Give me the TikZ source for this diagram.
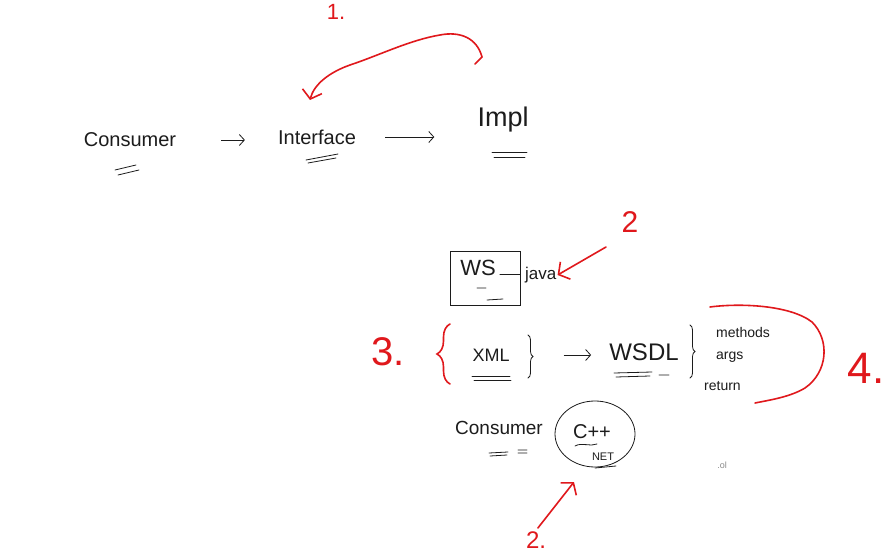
\documentclass[tikz,border=0pt]{standalone}
\usepackage{fontspec}
\setmainfont{Liberation Sans}
\usepackage{tikz}
\usetikzlibrary{
  arrows.meta,
  shapes.geometric,
  positioning,
  calc,
  decorations.pathreplacing
}
\definecolor{skInk}{HTML}{1C1C1C}
\definecolor{skRed}{HTML}{E0181C}
\definecolor{skMute}{HTML}{8A8A8A}
\tikzset{
  sknode/.style={font=\fontsize{20}{24}\selectfont, text=skInk, inner sep=1pt},
  sksmall/.style={font=\fontsize{14}{16}\selectfont, text=skInk, inner sep=1pt},
  rednum/.style={font=\fontsize{30}{32}\selectfont, text=skRed, inner sep=1pt},
  inkarrow/.style={-{Straight Barb[length=5pt, width=11pt]}, thick, skInk},
  redarrow/.style={-{Straight Barb[length=8pt, width=20pt]}, line width=1.6pt, skRed, line cap=round},
  redline/.style={line width=1.6pt, skRed, line cap=round},
  underl/.style={thick, skInk, line cap=round},
  wsbox/.style={draw=skInk, thick, minimum width=70pt, minimum height=54pt},
  ringnode/.style={draw=skInk, thick, ellipse, minimum width=80pt, minimum height=66pt}
}

\begin{document}
\begin{tikzpicture}[x=1pt, y=-1pt]
  \fill[white] (0,0) rectangle (888,556);
  \useasboundingbox (0,0) rectangle (888,556);

  % top row
  \node[rednum, font=\fontsize{22}{24}\selectfont] (one) at (336,12) {1.};
  \node[sknode] (consumer) at (130,140) {Consumer};
  \node[sknode] (interface) at (317,137) {Interface};
  \node[sknode, font=\fontsize{27}{30}\selectfont] (impl) at (503,120) {Impl};
  \draw[inkarrow, shorten <=44pt, shorten >=32pt] (consumer.east) -- (consumer.east -| interface.west);
  \draw[inkarrow, shorten <=28pt, shorten >=42pt] (interface.east) -- (interface.east -| impl.west);
  \draw[underl] (115,170) -- (136,165) (118,175) -- (139,170);
  \draw[underl] (306,160) -- (338,154) (308,163) -- (336,158);
  \draw[underl] (492,152) -- (527,152) (494,157) -- (525,157);

  \coordinate (swoopstart) at (475,64);
  \coordinate (ifacetip) at (310,100);
  \draw[redarrow] (swoopstart) -- (482,57) .. controls (477,38) and (460,31) .. (440,35)
    .. controls (410,40) and (380,55) .. (350,65) .. controls (330,72) and (314,84) .. (ifacetip);

  % web service box
  \node[rednum] (twoa) at (630,222) {2};
  \node[wsbox] (ws) at (485,278) {};
  \node[sknode, font=\fontsize{22}{26}\selectfont] (wstext) at (478,268) {WS};
  \node[sknode, font=\fontsize{17}{20}\selectfont, anchor=west] (java) at (524,275) {java};
  \draw[underl] (wstext.east) ++(3,6) -- (ws.east |- 274,274);
  \draw[underl] (477,288) -- (486,288) (487,300) -- (503,299);
  \coordinate (javatail) at (606,247);
  \draw[redarrow] (javatail) -- (java.east);

  % xml / wsdl row
  \node[rednum, font=\fontsize{40}{42}\selectfont] (three) at (388,352) {3.};
  \draw[redline, decorate, decoration={brace, amplitude=13pt}] (450,384) -- (450,324);
  \node[sknode, font=\fontsize{18}{22}\selectfont] (xml) at (491,355) {XML};
  \draw[underl, decorate, decoration={brace, amplitude=5pt}] (528,335) -- (528,378);
  \draw[underl] (472,376) -- (510,376) (474,380) -- (511,380);
  \node[sknode, font=\fontsize{24}{28}\selectfont] (wsdl) at (644,352) {WSDL};
  \draw[inkarrow, shorten <=53pt, shorten >=17pt] (xml.east) -- (xml.east -| wsdl.west);
  \draw[underl] (614,373) -- (652,372) (616,377) -- (650,376) (659,375) -- (669,375);
  \draw[underl, decorate, decoration={brace, amplitude=5pt}] (690,325) -- (690,378);
  \node[sksmall, anchor=west] (methods) at (715,332) {methods};
  \node[sksmall, anchor=west] (args) at (715,357) {args};
  \node[sksmall, anchor=west] (return) at (703,386) {return};
  \draw[redline] (710,307) .. controls (740,303) and (790,305) .. (812,322)
    .. controls (830,340) and (828,372) .. (805,388) .. controls (790,397) and (770,400) .. (755,403);
  \node[rednum, font=\fontsize{44}{46}\selectfont] (four) at (866,368) {4.};

  % consumer ring
  \node[sknode, font=\fontsize{19}{22}\selectfont] (consumerb) at (499,428) {Consumer};
  \draw[underl] (489,453) -- (508,452) (490,456) -- (507,455) (518,450) -- (527,450) (518,453) -- (527,453);
  \node[ringnode] (cpp) at (595,434) {};
  \node[sknode] (cpptext) at (592,432) {C++};
  \draw[underl] (575,446) .. controls (582,442) and (590,447) .. (597,444);
  \node[sknode, font=\fontsize{11}{13}\selectfont] (net) at (603,457) {NET};
  \draw[underl] (595,468) -- (616,466);
  \node[sksmall, font=\fontsize{9}{11}\selectfont, text=skMute] (ol) at (722,465) {.ol};

  \node[rednum, font=\fontsize{24}{26}\selectfont] (twob) at (536,540) {2.};
  \coordinate (cpptip) at (574,482);
  \draw[redarrow, shorten <=3pt] (twob.north) -- (cpptip);
\end{tikzpicture}
\end{document}
